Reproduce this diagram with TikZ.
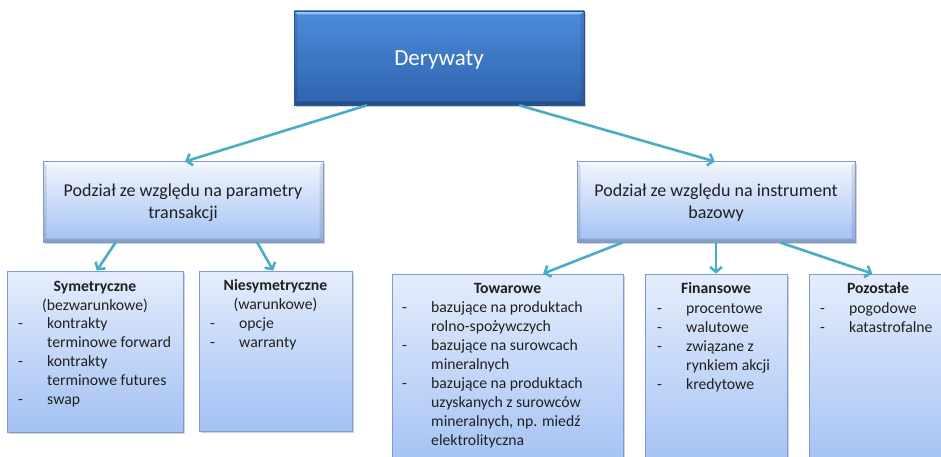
\documentclass[tikz,border=0pt]{standalone}
\usepackage{fontspec}
\setmainfont{Carlito}
\usetikzlibrary{arrows.meta,shadows,calc}
\definecolor{arr}{HTML}{4BACC6}
\definecolor{topA}{HTML}{4C8CDB}
\definecolor{topB}{HTML}{2F63AD}
\definecolor{lbA}{HTML}{E4EDFC}
\definecolor{lbB}{HTML}{A3C1F4}
\definecolor{bord}{HTML}{7C9BD0}
\definecolor{txtc}{HTML}{202020}
\newcommand{\dsh}{\makebox[29pt][l]{-}}
\newcommand{\ind}{\hspace*{29pt}}
\begin{document}
\begin{tikzpicture}[x=1pt,y=-1pt,
  shd/.style={drop shadow={shadow xshift=2pt,shadow yshift=-2pt,opacity=0.35}},
  bevel/.style={path picture={
    \fill[white,opacity=0.45] (path picture bounding box.north west) -- (path picture bounding box.north east)
       -- ++(-#1,-#1) -- ($(path picture bounding box.north west)+(#1,-#1)$) -- cycle;
    \fill[black,opacity=0.18] (path picture bounding box.south west) -- (path picture bounding box.south east)
       -- ++(-#1,#1) -- ($(path picture bounding box.south west)+(#1,#1)$) -- cycle;
    \fill[black,opacity=0.10] (path picture bounding box.south west) -- (path picture bounding box.north west)
       -- ++(#1,-#1) -- ($(path picture bounding box.south west)+(#1,#1)$) -- cycle;
    \fill[black,opacity=0.10] (path picture bounding box.south east) -- (path picture bounding box.north east)
       -- ++(-#1,-#1) -- ($(path picture bounding box.south east)+(-#1,#1)$) -- cycle;
  }},
  topbox/.style={shd,draw=topB!85!black,line width=0.6pt,top color=topA,bottom color=topB,inner sep=0pt,bevel=3.5pt},
  midbox/.style={shd,draw=bord,line width=1pt,top color=lbA!50!white,bottom color=lbB,inner sep=0pt,bevel=3.5pt},
  lowbox/.style={shd,draw=bord,line width=0.8pt,top color=lbA,bottom color=lbB,inner sep=0pt},
  conn/.style={draw=arr,line width=2.6pt,-{Straight Barb[length=5pt,width=12pt]}},
  ttl/.style={align=center,inner sep=0pt,anchor=north,text=txtc,font=\fontsize{15.7}{19}\selectfont},
  lst/.style={align=left,inner sep=0pt,anchor=north west,text=txtc,font=\fontsize{15.7}{19}\selectfont},
  midtxt/.style={align=center,inner sep=0pt,text=txtc,font=\fontsize{18}{22}\selectfont}
]
\useasboundingbox (0,0) rectangle (941,457);
\clip (0,0) rectangle (941,457);

% boxes
\node[topbox,minimum width=290pt,minimum height=94pt] (der) at (439,58) {};
\node[text=white,font=\fontsize{23}{27}\selectfont] (derT) at (439,60) {Derywaty};

\node[midbox,minimum width=280pt,minimum height=80pt] (lp) at (183,202) {};
\node[midtxt] (lpT) at (183,203) {Podział ze względu na parametry\\transakcji};

\node[midbox,minimum width=278pt,minimum height=80pt] (rp) at (716,202) {};
\node[midtxt] (rpT) at (716,203) {Podział ze względu na instrument\\bazowy};

\node[lowbox,minimum width=176pt,minimum height=161pt] (sym) at (95,351.5) {};
\node[lowbox,minimum width=153pt,minimum height=160pt] (nsym) at (275.5,351) {};
\node[lowbox,minimum width=231pt,minimum height=196pt] (tow) at (507.5,372) {};
\node[lowbox,minimum width=142pt,minimum height=196pt] (fin) at (716,372) {};
\node[lowbox,minimum width=151pt,minimum height=196pt] (poz) at (884.5,372) {};

% texts in lower boxes
\node[ttl] (symT) at (95,277.7) {\strut\textbf{Symetryczne}\\(bezwarunkowe)};
\node[lst] (symL) at (18,314.7) {\strut\dsh kontrakty\\\ind terminowe forward\\\dsh kontrakty\\\ind terminowe futures\\\dsh swap};

\node[ttl] (nsymT) at (275.5,276.7) {\strut\textbf{Niesymetryczne}\\(warunkowe)};
\node[lst] (nsymL) at (210,314.7) {\strut\dsh opcje\\\dsh warranty};

\node[ttl] (towT) at (507.5,279.7) {\strut\textbf{Towarowe}};
\node[lst] (towL) at (402,299.4) {\strut\dsh bazujące na produktach\\\ind rolno-spożywczych\\\dsh bazujące na surowcach\\\ind mineralnych\\\dsh bazujące na produktach\\\ind uzyskanych z surowców\\\ind mineralnych, np. miedź\\\ind elektrolityczna};

\node[ttl] (finT) at (716,279.7) {\strut\textbf{Finansowe}};
\node[lst] (finL) at (657,299.7) {\strut\dsh procentowe\\\dsh walutowe\\\dsh związane z\\\ind rynkiem akcji\\\dsh kredytowe};

\node[ttl] (pozT) at (878,279.7) {\strut\textbf{Pozostałe}};
\node[lst] (pozL) at (820,299.7) {\strut\dsh pogodowe\\\dsh katastrofalne};

% connectors
\draw[conn] ($(der.south west)!0.252!(der.south east)$) -- ($(lp.north west)!0.507!(lp.north east)$);
\draw[conn] ($(der.south west)!0.776!(der.south east)$) -- ($(rp.north west)!0.496!(rp.north east)$);
\draw[conn] ($(lp.south west)!0.26!(lp.south east)$) -- ($(sym.north west)!0.51!(sym.north east)$);
\draw[conn] ($(lp.south west)!0.764!(lp.south east)$) -- ($(nsym.north west)!0.485!(nsym.north east)$);
\draw[conn] ($(rp.south west)!0.165!(rp.south east)$) -- ($(tow.north west)!0.654!(tow.north east)$);
\draw[conn] ($(rp.south west)!0.50!(rp.south east)$) -- (fin.north);
\draw[conn] ($(rp.south west)!0.73!(rp.south east)$) -- ($(poz.north west)!0.42!(poz.north east)$);
\end{tikzpicture}
\end{document}
